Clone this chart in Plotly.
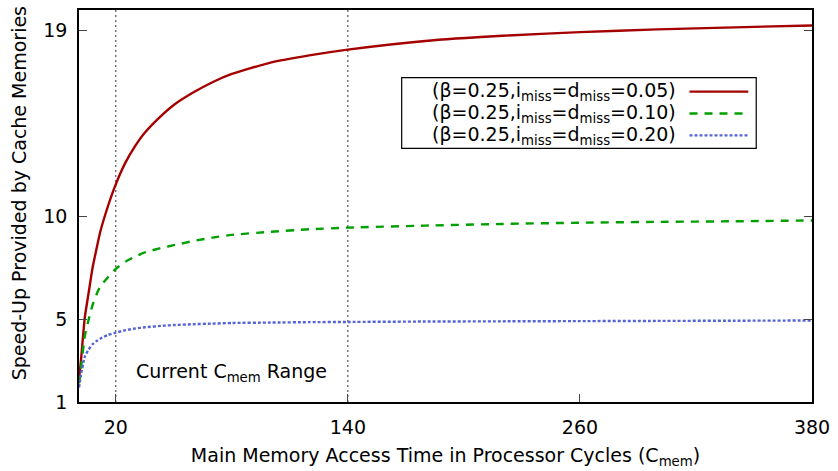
import plotly.graph_objects as go

# Data
c_mem = [1, 2, 4, 6, 8, 10, 12, 16, 20, 25, 30, 35, 45, 50, 60, 70, 80, 100, 120, 140, 180, 220, 260, 300, 340, 380]
speedup_005 = [2.1, 3.0, 5.1, 6.3, 7.5, 8.4, 9.25, 10.5, 11.55, 12.6, 13.4, 14.05, 15.0, 15.4, 16.0, 16.5, 16.9, 17.45, 17.8, 18.08, 18.5, 18.75, 18.93, 19.06, 19.16, 19.25]
speedup_010 = [1.9, 2.6, 4.2, 5.0, 5.7, 6.2, 6.6, 7.05, 7.45, 7.8, 8.05, 8.25, 8.5, 8.6, 8.8, 8.97, 9.1, 9.25, 9.37, 9.45, 9.55, 9.63, 9.69, 9.73, 9.76, 9.8]
speedup_020 = [1.7, 2.3, 3.2, 3.55, 3.8, 3.95, 4.07, 4.25, 4.36, 4.48, 4.56, 4.62, 4.7, 4.73, 4.77, 4.8, 4.83, 4.85, 4.87, 4.88, 4.9, 4.91, 4.92, 4.93, 4.94, 4.95]
labels = [
    "(β=0.25,i<sub>miss</sub>=d<sub>miss</sub>=0.05)",
    "(β=0.25,i<sub>miss</sub>=d<sub>miss</sub>=0.10)",
    "(β=0.25,i<sub>miss</sub>=d<sub>miss</sub>=0.20)",
]
x_ticks = [20, 140, 260, 380]
y_ticks = [1, 5, 10, 19]
range_bounds = [20, 140]

colors = ["#a50000", "#00a000", "#5563d6"]
dashes = ["solid", "8px,7px", "3px,2px"]
series = [speedup_005, speedup_010, speedup_020]

FONT = "DejaVu Sans"
FS = 19

fig = go.Figure()
for ys, col, d, lab in zip(series, colors, dashes, labels):
    fig.add_trace(go.Scatter(
        x=c_mem, y=ys, mode="lines", name=lab,
        line=dict(color=col, width=2.4, dash=d, shape="spline", smoothing=0.5),
        showlegend=False,
    ))

# vertical dotted range lines
for xb in range_bounds:
    fig.add_shape(type="line", xref="x", yref="paper", x0=xb, x1=xb, y0=0, y1=1,
                  line=dict(color="#555555", width=1.2, dash="2px,3px"), layer="below")

# custom legend (gnuplot style: text then sample on right)
L, R, T, B = 403, 759, 76, 147
W, H = 838, 471
ml, mr, mt, mb = 79, 23, 8, 69
pw, ph = W - ml - mr, H - mt - mb

def px(xp):
    return (xp - ml) / pw

def py(yp):
    return 1 - (yp - mt) / ph

fig.add_shape(type="rect", xref="paper", yref="paper", x0=px(L), x1=px(R), y0=py(B), y1=py(T),
              line=dict(color="black", width=1.2), fillcolor="white", layer="above")
for i, (lab, col, d) in enumerate(zip(labels, colors, dashes)):
    yy = 90 + 22 * i
    fig.add_annotation(text=lab, xref="paper", yref="paper", x=px(680), y=py(yy),
                       xanchor="right", yanchor="middle", showarrow=False,
                       font=dict(family=FONT, size=FS, color="black"))
    fig.add_shape(type="line", xref="paper", yref="paper", x0=px(692), x1=px(751),
                  y0=py(yy), y1=py(yy), line=dict(color=col, width=2.4, dash=d), layer="above")

fig.add_annotation(text="Current C<sub>mem</sub> Range", x=80, y=2.45, xref="x", yref="y",
                   showarrow=False, xanchor="center", yanchor="middle",
                   font=dict(family=FONT, size=FS, color="black"))

fig.add_annotation(text="Speed-Up Provided by Cache Memories", xref="paper", yref="paper",
                   x=px(19), y=py(192), textangle=-90, showarrow=False,
                   xanchor="center", yanchor="middle",
                   font=dict(family=FONT, size=FS, color="black"))

fig.update_layout(
    width=W, height=H,
    margin=dict(l=ml, r=mr, t=mt, b=mb),
    paper_bgcolor="white", plot_bgcolor="white",
    font=dict(family=FONT, size=FS, color="black"),
)
fig.update_xaxes(
    range=[1, 380], tickvals=x_ticks, ticktext=[str(v) for v in x_ticks],
    ticks="inside", ticklen=8, tickcolor="#444", tickwidth=1,
    showline=True, linecolor="black", linewidth=1.5, mirror=True,
    showgrid=False, zeroline=False, ticklabelstandoff=7,
    title=dict(text="Main Memory Access Time in Processor Cycles (C<sub>mem</sub>)",
               font=dict(family=FONT, size=FS), standoff=12),
)
fig.update_yaxes(
    range=[1, 20], tickvals=y_ticks, ticktext=[str(v) for v in y_ticks],
    ticks="inside", ticklen=8, tickcolor="#444", tickwidth=1,
    showline=True, linecolor="black", linewidth=1.5, mirror="ticks",
    showgrid=False, zeroline=False, ticklabelstandoff=6,
)

fig.write_html("out.html")
